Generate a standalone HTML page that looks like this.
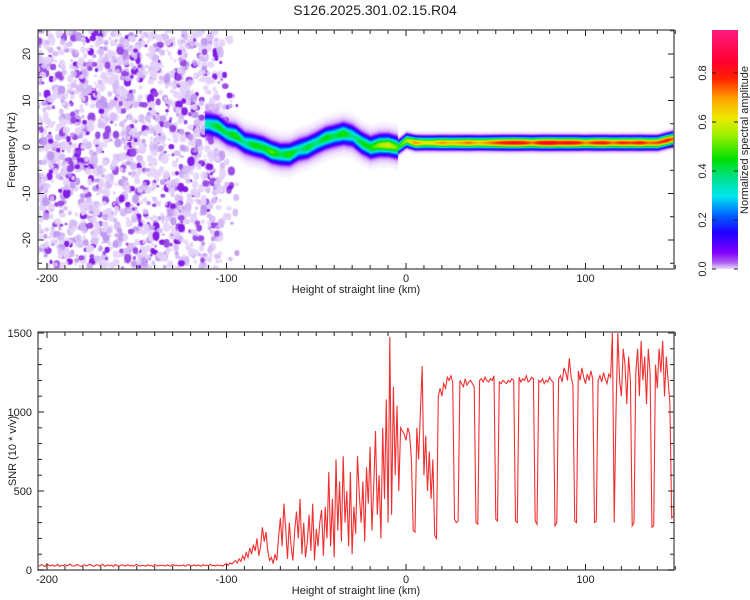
<!DOCTYPE html>
<html><head><meta charset="utf-8"><style>
body{margin:0;background:#fff;width:750px;height:600px;overflow:hidden;font-family:"Liberation Sans",sans-serif}
#wrap{position:relative;width:750px;height:600px}
canvas{position:absolute}
svg{position:absolute;left:0;top:0}
</style></head><body><div id="wrap">
<canvas id="spec" width="636" height="239" style="left:38px;top:30px"></canvas>
<canvas id="cbar" width="26" height="239" style="left:712px;top:30px"></canvas>
<svg id="svg" width="750" height="600"></svg>
</div>
<script>
// ===== DATA =====
const snrStartKm = -205;
const snrValues = [
30,25,35,28,22,40,30,26,33,24, 28,36,22,30,27,34,25,31,38,26,
24,30,35,27,22,29,33,26,31,36, 28,23,30,34,25,29,37,24,27,32,
26,31,22,35,28,24,30,33,27,25, 34,26,29,23,31,36,27,25,30,28,
24,33,27,30,22,35,29,26,31,28, 30,25,33,27,24,36,28,31,26,29,
27,32,24,30,35,26,28,33,25,31, 29,24,34,27,31,26,36,28,30,25,
32,27,30,24,35,40,30,45,38,50, 60,45,70,55,90,65,110,80,140,100,
160,120,200,90,150,270,180,240,120,60, 80,40,100,60,210,330,150,420,260,70,
300,150,60,250,370,200,450,100,300,80, 180,350,120,420,60,260,150,300,380,90,
400,200,620,150,450,80,700,250,560,180, 720,300,500,150,620,100,400,230,720,480,
300,560,180,650,420,780,250,520,880,350, 600,200,900,450,1080,300,1475,350,1160,600,
1040,500,900,880,860,
820,900,860,700,250,240,900,700,1000,1290, 600,850,500,750,450,700,220,200,1100,1150,
1100,1180,1150,1220,1200,1230,1190,320,300,310, 1200,1180,1160,1210,1170,1190,1200,1180,1160,300,
290,1200,1210,1190,1220,1200,1190,1210,1200,1230, 320,310,1190,1180,1200,1190,1180,1200,1190,1210,
1200,310,300,1220,1190,1210,1200,1230,1190,1200, 1220,1210,310,290,1200,1190,1210,1180,1200,1190,
1220,1200,1190,280,300,1210,1230,1190,1280,1250, 1200,1340,1220,1170,310,300,1260,1200,1280,1220,
1180,1240,1200,1260,1210,300,310,1200,1230,1190, 1250,1210,1180,1240,1220,1500,300,1000,1500,1200,
1100,1400,1300,1050,1350,1200,280,300,1250,1400, 1100,1450,1200,1350,1050,1400,1250,270,280,1300,
1150,1400,1250,1450,1100,1350,1200,1050,330,340, 1150];
const ridgeStartKm = -110;
const ridgeFreq = [5,4.5,3,2.5,1,0.5,0,-1,-1.5,-1.5,-0.5,0,1,2,2.5,3,2.5,1,0,0.5,0.5,0,1.5,
1,1,1,1,1,1,1,1,1,1,1,1,1,1,1,1,1,1,1,1,1,1,1,1,1,1,1,1,1.5,2];
const ridgeAmp = [0.3,0.4,0.35,0.42,0.3,0.4,0.38,0.45,0.35,0.42,0.3,0.38,0.32,0.4,0.35,0.42,0.3,0.38,0.4,0.5,0.55,0.45,0.55,
0.7,0.6,0.62,0.7,0.65,0.68,0.72,0.65,0.7,0.75,0.8,0.82,0.8,0.72,0.82,0.85,0.8,0.82,0.8,0.7,0.78,0.8,0.72,0.78,0.75,0.8,0.72,0.75,0.8,0.7];
const xTicks = [-200,-100,0,100];
const freqTicks = [20,10,0,-10,-20];
const snrTicks = [0,500,1000,1500];
const cbarTicks = [0.0,0.2,0.4,0.6,0.8];

// ===== AXES =====
const L=38,R=674;
const xs = km => 406 + km*1.795;
const yf = f => 147 - f*4.65;
const ys = v => 570 - v*0.158;
const yc = v => 269 - v*245;

const cmap=[[0,[240,232,255]],[0.03,[170,90,240]],[0.07,[128,0,255]],[0.15,[32,0,255]],[0.22,[0,96,255]],[0.3,[0,232,240]],
[0.38,[0,224,128]],[0.45,[0,224,0]],[0.55,[160,240,0]],[0.62,[240,232,0]],[0.7,[255,160,0]],[0.78,[255,32,0]],[0.85,[255,0,48]],[1,[255,32,144]]];
function col(v){v=Math.max(0,Math.min(1,v));for(let i=1;i<cmap.length;i++){if(v<=cmap[i][0]){const a=cmap[i-1],b=cmap[i],t=(v-a[0])/(b[0]-a[0]);return a[1].map((c,k)=>Math.round(c+(b[1][k]-c)*t));}}return cmap[cmap.length-1][1];}
function interp(arr,start,step,km){const p=(km-start)/step;const i=Math.floor(p);if(i<0)return arr[0];if(i>=arr.length-1)return arr[arr.length-1];const t=p-i;return arr[i]*(1-t)+arr[i+1]*t;}

// colorbar
(function(){const c=document.getElementById('cbar').getContext('2d');for(let y=0;y<239;y++){const v=(239-y)/245;const k=col(v);c.fillStyle=`rgb(${k[0]},${k[1]},${k[2]})`;c.fillRect(0,y,26,1);}})();

// spectrogram: noise texture (seeded) + ridge
(function(){
const cv=document.getElementById('spec'),c=cv.getContext('2d');
c.fillStyle='#fff';c.fillRect(0,0,636,239);
let s=12345;const rnd=()=>{s=(s*1103515245+12345)&0x7fffffff;return s/0x7fffffff;};
const shades=['rgba(228,210,250,0.9)','rgba(212,185,246,0.9)','rgba(190,150,238,0.9)','rgba(150,70,228,0.95)','rgba(125,20,230,0.95)'];
for(let i=0;i<2100;i++){
  const km=-206+rnd()*112; if(km>-102 && rnd()<0.8) continue;
  const x=xs(km)-L, y=rnd()*239;
  const r=1.2+rnd()*2.6; const sh=shades[Math.min(4,Math.floor(rnd()*rnd()*6.5))];
  c.fillStyle=sh;c.beginPath();c.ellipse(x,y,r,r*(0.8+rnd()*0.6),0,0,Math.PI*2);c.fill();
}
const img=c.getImageData(0,0,636,239),d=img.data;
for(let px=0;px<636;px++){
  const km=(px+L-406)/1.795; if(km<-112) continue;
  const f0=interp(ridgeFreq,ridgeStartKm,5,km), a=interp(ridgeAmp,ridgeStartKm,5,km);
  const early=km<-5;
  const sig=early?1.1:0.75;
  for(let py=0;py<239;py++){
    const f=(147-(py+30))/4.65, dd=f-f0;
    let v=a*Math.exp(-dd*dd/(2*sig*sig)) + (early?0.06*Math.exp(-dd*dd/(2*7)):0.02*Math.exp(-dd*dd/(2*4)));
    if(v<0.01) continue;
    const k=col(v), al=Math.min(1,v/0.1), o=(py*636+px)*4;
    for(let j=0;j<3;j++) d[o+j]=Math.round(d[o+j]*(1-al)+k[j]*al);
    d[o+3]=255;
  }
}
c.putImageData(img,0,0);
})();

// ===== SVG =====
const NS='http://www.w3.org/2000/svg',svg=document.getElementById('svg');
function el(t,a,txt){const e=document.createElementNS(NS,t);for(const k in a)e.setAttribute(k,a[k]);if(txt!==undefined)e.textContent=txt;svg.appendChild(e);return e;}
let e;
const defs=el('defs',{});
const cp=document.createElementNS(NS,'clipPath');cp.setAttribute('id','snrclip');
const cr=document.createElementNS(NS,'rect');cr.setAttribute('x',L);cr.setAttribute('y',332);cr.setAttribute('width',R-L);cr.setAttribute('height',238);
cp.appendChild(cr);defs.appendChild(cp);

e=el('text',{x:375,y:15,'text-anchor':'middle','font-size':14,fill:'#222'},'S126.2025.301.02.15.R04');



let pts=snrValues.map((v,i)=>`${xs(snrStartKm+i).toFixed(1)},${Math.max(333,ys(v)).toFixed(1)}`).join(' ');
e=el('polyline',{points:pts,fill:'none',stroke:'#f03030','stroke-width':1.1,'clip-path':'url(#snrclip)'});



function frame(top,bot,name){
  e=el('rect',{x:L,y:top,width:R-L,height:bot-top,fill:'none',stroke:'#666','stroke-width':1.5});
  
  
  for(let km=-200;km<=150;km+=10){const x=xs(km),len=(km%100===0)?6:4;
    el('line',{x1:x,y1:top,x2:x,y2:top+len,stroke:'#222'});el('line',{x1:x,y1:bot,x2:x,y2:bot-len,stroke:'#222'});}
  xTicks.forEach(k=>{e=el('text',{x:xs(k),y:bot+13,'text-anchor':'middle','font-size':11,fill:'#222'},k);
    
    });
  e=el('text',{x:356,y:bot+24,'text-anchor':'middle','font-size':11,fill:'#222'},'Height of straight line (km)');
  
  
}
frame(30,269,'spectrogram');
frame(332,570,'snr');
for(let f=-25;f<=25;f+=5){const y=yf(f);if(y<30||y>269)continue;const len=f%10===0?6:4;
  el('line',{x1:L,y1:y,x2:L+len,y2:y,stroke:'#222'});el('line',{x1:R,y1:y,x2:R-len,y2:y,stroke:'#222'});}
freqTicks.forEach(f=>{e=el('text',{x:0,y:0,transform:`translate(30,${yf(f)}) rotate(-90)`,'text-anchor':'middle','font-size':11,fill:'#222'},f);
  
  });
e=el('text',{x:0,y:0,transform:'translate(15,150) rotate(-90)','text-anchor':'middle','font-size':11,fill:'#222'},'Frequency (Hz)');



for(let v=0;v<=1500;v+=100){const y=ys(v),len=v%500===0?6:4;
  el('line',{x1:L,y1:y,x2:L+len,y2:y,stroke:'#222'});el('line',{x1:R,y1:y,x2:R-len,y2:y,stroke:'#222'});}
snrTicks.forEach(v=>{e=el('text',{x:32,y:ys(v)+4,'text-anchor':'end','font-size':11,fill:'#222'},v);
  
  });
e=el('text',{x:0,y:0,transform:'translate(16,451) rotate(-90)','text-anchor':'middle','font-size':11,fill:'#222'},'SNR (10 * v/v)');



cbarTicks.forEach(v=>{const y=yc(v);
  el('line',{x1:712,y1:y,x2:716,y2:y,stroke:'#222'});el('line',{x1:738,y1:y,x2:734,y2:y,stroke:'#222'});
  e=el('text',{x:0,y:0,transform:`translate(706,${y}) rotate(-90)`,'text-anchor':'middle','font-size':11,fill:'#222'},v.toFixed(1));
  
  });
e=el('text',{x:0,y:0,transform:'translate(748,140) rotate(-90)','text-anchor':'middle','font-size':11,fill:'#222'},'Normalized spectral amplitude');


</script></body></html>
